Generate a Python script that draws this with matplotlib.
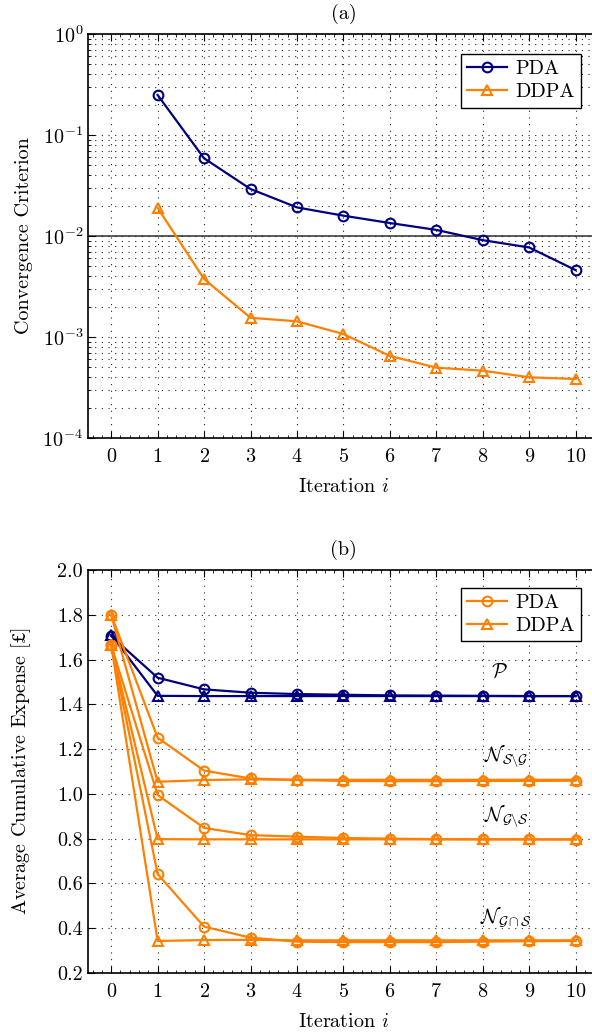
import numpy as np
import matplotlib
matplotlib.use("Agg")
import matplotlib.pyplot as plt
from matplotlib.ticker import MultipleLocator, LogLocator, NullFormatter, FormatStrFormatter

plt.rcParams['font.family'] = ['cmr10', 'DejaVu Serif']
plt.rcParams['mathtext.fontset'] = 'cm'
plt.rcParams['axes.formatter.use_mathtext'] = True
plt.rcParams['axes.unicode_minus'] = False

NAVY = '#000080'
ORANGE = '#ff8000'

# (a) convergence criterion, iterations 1..10
it_a = np.arange(1, 11)
conv_pda = [0.249, 0.0588, 0.0292, 0.0192, 0.0159, 0.01345, 0.0115, 0.0091, 0.0077, 0.0046]
conv_ddpa = [0.019, 0.00375, 0.00155, 0.00143, 0.00107, 0.00065, 0.000497, 0.000464, 0.000399, 0.000384]
threshold = 1e-2

# (b) average cumulative expense, iterations 0..10
it_b = np.arange(0, 11)
P_pda = [1.705, 1.519, 1.467, 1.452, 1.446, 1.443, 1.440, 1.439, 1.438, 1.437, 1.437]
P_ddpa = [1.710, 1.438, 1.437, 1.437, 1.437, 1.437, 1.437, 1.437, 1.437, 1.437, 1.437]
NSG_pda = [1.800, 1.251, 1.104, 1.069, 1.062, 1.058, 1.057, 1.057, 1.058, 1.058, 1.059]
NSG_ddpa = [1.800, 1.054, 1.062, 1.065, 1.063, 1.063, 1.063, 1.063, 1.063, 1.063, 1.063]
NGS_pda = [1.665, 0.995, 0.848, 0.816, 0.809, 0.803, 0.800, 0.798, 0.797, 0.797, 0.796]
NGS_ddpa = [1.665, 0.798, 0.797, 0.797, 0.797, 0.797, 0.797, 0.797, 0.797, 0.797, 0.797]
NGcS_pda = [1.665, 0.642, 0.407, 0.358, 0.340, 0.338, 0.338, 0.338, 0.340, 0.342, 0.343]
NGcS_ddpa = [1.665, 0.343, 0.347, 0.348, 0.346, 0.346, 0.346, 0.346, 0.346, 0.346, 0.346]

group_labels = [r'$\mathcal{P}$', r'$\mathcal{N}_{\mathcal{S}\backslash\mathcal{G}}$',
                r'$\mathcal{N}_{\mathcal{G}\backslash\mathcal{S}}$', r'$\mathcal{N}_{\mathcal{G}\cap\mathcal{S}}$']
label_x = [8.35, 8.5, 8.5, 8.5]
label_y = [1.54, 1.17, 0.90, 0.45]

FS = 14.5
fig = plt.figure(figsize=(5.92, 10.34), dpi=100)
ax1 = fig.add_axes([0.1486, 0.5764, 0.8629, 0.3907])
ax2 = fig.add_axes([0.1486, 0.0590, 0.8629, 0.3897])

lk = dict(lw=1.6, ms=7, mew=1.5, mfc='none')
gk = dict(ls=(0, (1, 5)), color='#222222', lw=0.8)

# ---- (a)
ax1.plot(it_a, conv_pda, '-o', color=NAVY, label='PDA', **lk)
ax1.plot(it_a, conv_ddpa, '-^', color=ORANGE, label='DDPA', **lk)
ax1.axhline(threshold, color='#404040', lw=1.2, zorder=1)
ax1.set_yscale('log')
ax1.set_ylim(1e-4, 1)
ax1.yaxis.set_major_locator(LogLocator(base=10, numticks=10))
ax1.yaxis.set_minor_locator(LogLocator(base=10, subs=np.arange(2, 10), numticks=20))
ax1.yaxis.set_minor_formatter(NullFormatter())
ax1.grid(True, which='major', **gk)
ax1.grid(True, which='minor', axis='y', **gk)
ax1.set_ylabel('Convergence Criterion', fontsize=FS)
ax1.set_title('(a)', fontsize=FS, pad=11)
ax1.legend(loc='upper right', bbox_to_anchor=(0.965, 0.95), fontsize=FS, fancybox=False,
           edgecolor='k', framealpha=1, handlelength=2.0, borderpad=0.3, labelspacing=0.25,
           handletextpad=0.4, borderaxespad=0)

# ---- (b)
ax2.plot(it_b, P_pda, '-o', color=NAVY, **lk)
ax2.plot(it_b, P_ddpa, '-^', color=NAVY, **lk)
ax2.plot(it_b, NSG_pda, '-o', color=ORANGE, label='PDA', **lk)
ax2.plot(it_b, NSG_ddpa, '-^', color=ORANGE, label='DDPA', **lk)
ax2.plot(it_b, NGS_pda, '-o', color=ORANGE, **lk)
ax2.plot(it_b, NGS_ddpa, '-^', color=ORANGE, **lk)
ax2.plot(it_b, NGcS_pda, '-o', color=ORANGE, **lk)
ax2.plot(it_b, NGcS_ddpa, '-^', color=ORANGE, **lk)
for lab, lx, ly in zip(group_labels, label_x, label_y):
    ax2.text(lx, ly, lab, fontsize=FS, ha='center', va='center')
ax2.set_ylim(0.2, 2.0)
ax2.yaxis.set_major_locator(MultipleLocator(0.2))
ax2.yaxis.set_major_formatter(FormatStrFormatter('%.1f'))
ax2.grid(True, which='major', **gk)
ax2.set_ylabel(r'Average Cumulative Expense [$\mathit{\sterling}$]', fontsize=FS)
ax2.set_title('(b)', fontsize=FS, pad=11)
ax2.legend(loc='upper right', bbox_to_anchor=(0.965, 0.955), fontsize=FS, fancybox=False,
           edgecolor='k', framealpha=1, handlelength=2.0, borderpad=0.3, labelspacing=0.25,
           handletextpad=0.4, borderaxespad=0)

for ax in (ax1, ax2):
    ax.set_xlim(-0.5, 10.5)
    ax.xaxis.set_major_locator(MultipleLocator(1))
    ax.xaxis.set_minor_locator(MultipleLocator(0.2))
    ax.set_xlabel('Iteration $i$', fontsize=FS, labelpad=9)
    ax.yaxis.set_label_coords(-0.108, 0.5)
    ax.tick_params(which='both', direction='in', top=True, right=True, labelsize=FS)
    ax.tick_params(axis='x', which='major', pad=7)
    ax.tick_params(which='major', length=5, width=0.8)
    ax.tick_params(which='minor', length=2.5, width=0.6)
    for s in ax.spines.values():
        s.set_linewidth(1.2)

fig.savefig('out.png', dpi=100)
